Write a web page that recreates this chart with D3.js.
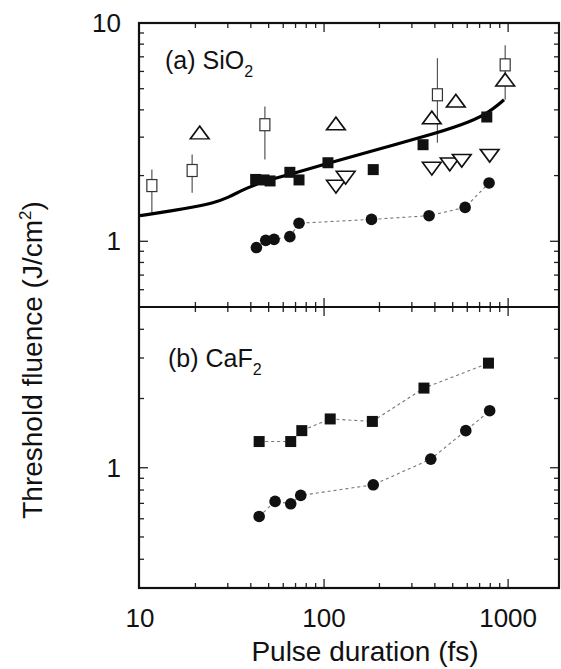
<!DOCTYPE html>
<html>
<head>
<meta charset="utf-8">
<script src="https://cdn.jsdelivr.net/npm/d3@7"></script>
<style>
body { margin: 0; background: #fff; }
text { font-family: "Liberation Sans", Arial, Helvetica, sans-serif; fill: #111; }
</style>
</head>
<body>
<div id="chart"></div>
<script>
// SiO2 panel
var sioOpenSqX = [11.6, 19.2, 47.7, 413, 964]
var sioOpenSqY = [1.80, 2.11, 3.42, 4.69, 6.43]
var sioOpenSqLo = [1.36, 1.67, 2.37, 2.83, 4.45]
var sioOpenSqHi = [2.13, 2.50, 4.14, 6.90, 7.90]
var sioUpTriX = [21.1, 116, 385, 520, 964]
var sioUpTriY = [3.08, 3.39, 3.61, 4.31, 5.38]
var sioDownTriX = [116, 131, 385, 482, 560, 794]
var sioDownTriY = [1.82, 2.00, 2.20, 2.30, 2.39, 2.52]
var sioSqX = [42.5, 47.2, 50.9, 65.2, 73.1, 105, 185, 345, 766]
var sioSqY = [1.92, 1.91, 1.89, 2.07, 1.91, 2.29, 2.13, 2.77, 3.71]
var sioDotX = [42.9, 48.2, 53.5, 65.2, 73.1, 181, 372, 584, 788]
var sioDotY = [0.936, 1.01, 1.02, 1.05, 1.21, 1.26, 1.31, 1.43, 1.85]
var theoryX = [10, 15, 20, 25, 30, 36, 46, 70, 105, 161, 372, 565, 766, 950]
var theoryY = [1.31, 1.38, 1.44, 1.50, 1.58, 1.72, 1.87, 2.06, 2.28, 2.52, 3.06, 3.42, 3.82, 4.45]
// CaF2 panel
var cafSqX = [44.4, 65.9, 75.7, 108, 183, 349, 782]
var cafSqY = [1.30, 1.30, 1.45, 1.63, 1.59, 2.22, 2.85]
var cafDotX = [44.4, 54.2, 65.9, 74.7, 185, 380, 589, 794]
var cafDotY = [0.614, 0.714, 0.697, 0.758, 0.843, 1.09, 1.45, 1.77]

var xTickLabels = [10, 100, 1000]
var topYLabels = [10, 1]
var botYLabels = [1]

var W = 561, H = 669
var pLeft = 139, pRight = 559, pTop = 23, pMid = 307, pBottom = 588

var svg = d3.select("#chart").append("svg")
.attr("width", W)
.attr("height", H)

var x = d3.scaleLog().domain([10, 1890]).range([pLeft + 1, pRight])
var yTop = d3.scaleLog().domain([0.5, 10]).range([pMid, pTop])
var yBot = d3.scaleLog().domain([0.3, 5]).range([pBottom, pMid])

svg.append("defs").append("clipPath").attr("id", "clipTop")
.append("rect").attr("x", pLeft).attr("y", pTop).attr("width", pRight - pLeft).attr("height", pMid - pTop)

function zip(a, b) { return a.map(function(v, i) { return [v, b[i]] }) }

// ticks in log decades
function minorTicks(lo, hi) {
    var out = []
    for (var d = Math.floor(Math.log10(lo)); d <= Math.ceil(Math.log10(hi)); d++) {
        for (var k = 1; k < 10; k++) {
            var v = k * Math.pow(10, d)
            if (v > lo * 1.0001 && v < hi * 0.9999) out.push(v)
        }
    }
    return out
}
function isDecade(v) { return Math.abs(Math.log10(v) - Math.round(Math.log10(v))) < 1e-9 }

function frameTicks(y, y0, y1) {
    var g = svg.append("g").attr("stroke", "#222").attr("stroke-width", 1.3)
    minorTicks(10, 1890).forEach(function(v) {
        var len = isDecade(v) ? 9 : 5
        g.append("line").attr("x1", x(v)).attr("x2", x(v)).attr("y1", y0).attr("y2", y0 + len)
        g.append("line").attr("x1", x(v)).attr("x2", x(v)).attr("y1", y1).attr("y2", y1 - len)
    })
    minorTicks(y.domain()[0], y.domain()[1]).forEach(function(v) {
        var len = isDecade(v) ? 9 : 5
        g.append("line").attr("x1", pLeft).attr("x2", pLeft + len).attr("y1", y(v)).attr("y2", y(v))
        g.append("line").attr("x1", pRight).attr("x2", pRight - len).attr("y1", y(v)).attr("y2", y(v))
    })
}
frameTicks(yTop, pTop, pMid)
frameTicks(yBot, pMid, pBottom)

// frame
svg.append("rect").attr("x", pLeft).attr("y", pTop).attr("width", pRight - pLeft).attr("height", pBottom - pTop)
.attr("fill", "none").attr("stroke", "#111").attr("stroke-width", 2.2)
svg.append("line").attr("x1", pLeft).attr("x2", pRight).attr("y1", pMid).attr("y2", pMid)
.attr("stroke", "#111").attr("stroke-width", 2.2)

// tick labels
svg.selectAll(".xl").data(xTickLabels).enter().append("text")
.attr("x", function(d) { return x(d) })
.attr("y", 627)
.attr("text-anchor", "middle")
.style("font-size", "26px")
.text(function(d) { return d })
svg.selectAll(".ytl").data(topYLabels).enter().append("text")
.attr("x", 121)
.attr("y", function(d) { return yTop(d) + 9 })
.attr("text-anchor", "end")
.style("font-size", "26px")
.text(function(d) { return d })
svg.selectAll(".ybl").data(botYLabels).enter().append("text")
.attr("x", 121)
.attr("y", function(d) { return yBot(d) + 9 })
.attr("text-anchor", "end")
.style("font-size", "26px")
.text(function(d) { return d })

// axis titles
svg.append("text")
.attr("x", 365).attr("y", 661)
.attr("text-anchor", "middle")
.style("font-size", "28px")
.text("Pulse duration (fs)")
var yTitle = svg.append("text")
.attr("transform", "translate(42,360) rotate(-90)")
.attr("text-anchor", "middle")
.style("font-size", "28px")
yTitle.append("tspan").text("Threshold fluence (J/cm")
yTitle.append("tspan").attr("dy", -11).style("font-size", "17px").text("2")
yTitle.append("tspan").attr("dy", 11).text(")")

// panel labels
function panelLabel(px, py, main) {
    var t = svg.append("text").attr("x", px).attr("y", py).style("font-size", "25px")
    t.append("tspan").text(main)
    t.append("tspan").attr("dy", 8).style("font-size", "16px").text("2")
}
panelLabel(165, 69, "(a) SiO")
panelLabel(168, 367, "(b) CaF")

// top panel
var gt = svg.append("g").attr("clip-path", "url(#clipTop)")
// error bars
gt.selectAll(".err").data(sioOpenSqX.map(function(v, i) { return [v, sioOpenSqLo[i], sioOpenSqHi[i]] })).enter().append("line")
.attr("x1", function(d) { return x(d[0]) }).attr("x2", function(d) { return x(d[0]) })
.attr("y1", function(d) { return yTop(d[1]) }).attr("y2", function(d) { return yTop(d[2]) })
.attr("stroke", "#555").attr("stroke-width", 1.2)
// theory curve
gt.append("path")
.datum(zip(theoryX, theoryY))
.attr("fill", "none").attr("stroke", "#000").attr("stroke-width", 3.2)
.attr("d", d3.line().curve(d3.curveBasis).x(function(d) { return x(d[0]) }).y(function(d) { return yTop(d[1]) }))
// dashed link for dots
gt.append("path")
.datum(zip(sioDotX, sioDotY))
.attr("fill", "none").attr("stroke", "#777").attr("stroke-width", 1.1).attr("stroke-dasharray", "3,3")
.attr("d", d3.line().x(function(d) { return x(d[0]) }).y(function(d) { return yTop(d[1]) }))
// open squares
gt.selectAll(".osq").data(zip(sioOpenSqX, sioOpenSqY)).enter().append("rect")
.attr("x", function(d) { return x(d[0]) - 5 }).attr("y", function(d) { return yTop(d[1]) - 6 })
.attr("width", 10).attr("height", 12)
.attr("fill", "#fff").attr("stroke", "#333").attr("stroke-width", 1.2)
// triangles
var tri = d3.symbol().type(d3.symbolTriangle).size(115)
gt.selectAll(".ut").data(zip(sioUpTriX, sioUpTriY)).enter().append("path")
.attr("transform", function(d) { return "translate(" + x(d[0]) + "," + yTop(d[1]) + ") scale(1.15,0.9)" })
.attr("d", tri)
.attr("fill", "#fff").attr("stroke", "#111").attr("stroke-width", 1.6)
gt.selectAll(".dt").data(zip(sioDownTriX, sioDownTriY)).enter().append("path")
.attr("transform", function(d) { return "translate(" + x(d[0]) + "," + yTop(d[1]) + ") rotate(180) scale(1.15,0.9)" })
.attr("d", tri)
.attr("fill", "#fff").attr("stroke", "#111").attr("stroke-width", 1.6)
// filled squares
gt.selectAll(".fsq").data(zip(sioSqX, sioSqY)).enter().append("rect")
.attr("x", function(d) { return x(d[0]) - 5.5 }).attr("y", function(d) { return yTop(d[1]) - 5.5 })
.attr("width", 11).attr("height", 11)
.attr("fill", "#111")
// filled dots
gt.selectAll(".fdot").data(zip(sioDotX, sioDotY)).enter().append("circle")
.attr("cx", function(d) { return x(d[0]) }).attr("cy", function(d) { return yTop(d[1]) })
.attr("r", 5.8)
.attr("fill", "#111")

// bottom panel
var gb = svg.append("g")
gb.append("path")
.datum(zip(cafSqX, cafSqY))
.attr("fill", "none").attr("stroke", "#777").attr("stroke-width", 1.1).attr("stroke-dasharray", "3,3")
.attr("d", d3.line().x(function(d) { return x(d[0]) }).y(function(d) { return yBot(d[1]) }))
gb.append("path")
.datum(zip(cafDotX, cafDotY))
.attr("fill", "none").attr("stroke", "#777").attr("stroke-width", 1.1).attr("stroke-dasharray", "3,3")
.attr("d", d3.line().x(function(d) { return x(d[0]) }).y(function(d) { return yBot(d[1]) }))
gb.selectAll(".bsq").data(zip(cafSqX, cafSqY)).enter().append("rect")
.attr("x", function(d) { return x(d[0]) - 5.5 }).attr("y", function(d) { return yBot(d[1]) - 5.5 })
.attr("width", 11).attr("height", 11)
.attr("fill", "#111")
gb.selectAll(".bdot").data(zip(cafDotX, cafDotY)).enter().append("circle")
.attr("cx", function(d) { return x(d[0]) }).attr("cy", function(d) { return yBot(d[1]) })
.attr("r", 5.8)
.attr("fill", "#111")
</script>
</body>
</html>
